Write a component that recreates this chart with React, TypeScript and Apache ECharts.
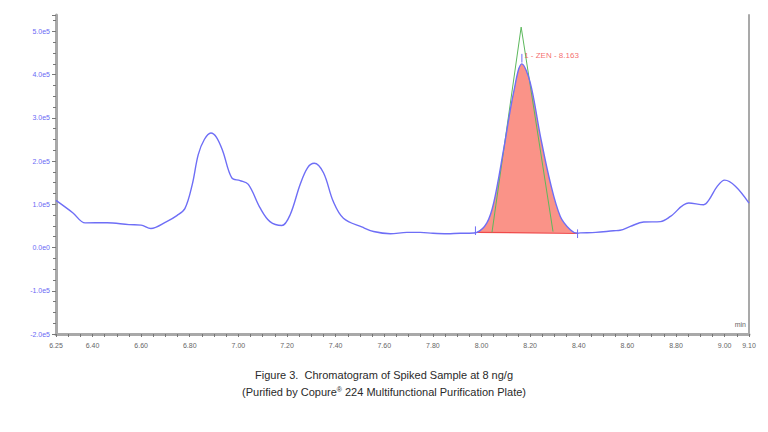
import React, { useEffect, useRef } from "react";
import * as echarts from "echarts";

// Retention time (min) and detector response (counts)
const times = [
  6.25, 6.32, 6.37, 6.46, 6.55, 6.6, 6.64, 6.705, 6.747, 6.78, 6.81, 6.835, 6.86, 6.887, 6.91,
  6.936, 6.973, 7.007, 7.041, 7.09, 7.13, 7.179, 7.213, 7.254, 7.285, 7.312, 7.35, 7.39, 7.432,
  7.51, 7.556, 7.625, 7.693, 7.748, 7.8, 7.86, 7.913, 7.95, 7.981, 8.022, 8.05, 8.091, 8.132,
  8.166, 8.2, 8.242, 8.283, 8.324, 8.365, 8.393, 8.406, 8.47, 8.543, 8.57, 8.612, 8.667, 8.736,
  8.777, 8.852, 8.914, 8.934, 8.97, 9.0, 9.044, 9.1,
];
const signal = [
  109000, 80000, 57000, 57500, 53000, 52000, 44000, 60000, 74000, 90000, 145000, 215000, 250000,
  265000, 255000, 223000, 161000, 155000, 146000, 91000, 60000, 51000, 76000, 146000, 185000,
  195000, 173000, 107000, 68000, 47000, 37000, 32000, 35000, 35000, 33000, 32000, 33000, 33000,
  35000, 57000, 103000, 227000, 359000, 425000, 382000, 258000, 150000, 72000, 41000, 33000,
  34000, 35000, 39000, 40000, 49000, 59000, 60000, 72000, 103000, 99000, 109000, 142000, 156000,
  142000, 103000,
];

// Integrated peak (ZEN)
const peakStart = 7.981;
const peakEnd = 8.393;
const peakBaseline = [[7.981, 35000], [8.393, 33000]];
const tangentTriangle = [[8.043, 35000], [8.163, 510000], [8.294, 37000]];
const peakLabel = "1 - ZEN - 8.163";
const peakLabelPoint = [8.163, 445000];

// Axes
const xLabelValues = [6.25, 6.4, 6.6, 6.8, 7.0, 7.2, 7.4, 7.6, 7.8, 8.0, 8.2, 8.4, 8.6, 8.8, 9.0, 9.1];
const xMin = 6.25;
const xMax = 9.1;
const yMin = -200000;
const yMax = 538000;
const xUnit = "min";
const captionLine1 = "Figure 3.  Chromatogram of Spiked Sample at 8 ng/g";

export default function App() {
  const ref = useRef<HTMLDivElement>(null);
  useEffect(() => {
    if (!ref.current) return;
    const chart = echarts.init(ref.current, null, { renderer: "svg" });
    const trace = times.map((t, i) => [t, signal[i]]);
    const peakData = trace.filter((p) => p[0] >= peakStart && p[0] <= peakEnd);
    const xTicks: number[] = [];
    for (let k = 0; k <= Math.round((xMax - xMin) / 0.05); k++) {
      xTicks.push(Math.round((xMin + k * 0.05) * 100) / 100);
    }
    const axisGray = "#a9a9a9";
    const font = "Liberation Sans, Arial, sans-serif";
    chart.setOption({
      animation: false,
      backgroundColor: "#ffffff",
      grid: { left: 56, right: 19, top: 15, height: 319 },
      xAxis: {
        type: "value",
        min: xMin,
        max: xMax,
        axisLine: { show: true, onZero: false, lineStyle: { color: axisGray, width: 3 } },
        axisTick: { show: true, customValues: xTicks, length: 3, lineStyle: { color: "#777", width: 1 } },
        axisLabel: {
          customValues: xLabelValues,
          formatter: (v: number) => v.toFixed(2),
          fontSize: 7,
          color: "#666",
          fontFamily: font,
          margin: 8,
        },
        splitLine: { show: false },
      },
      yAxis: [
        {
          type: "value",
          min: yMin,
          max: yMax,
          interval: 100000,
          axisLine: { show: true, onZero: false, lineStyle: { color: axisGray, width: 3 } },
          axisTick: { show: true, length: 4, lineStyle: { color: "#777" } },
          minorTick: { show: true, splitNumber: 4, length: 3, lineStyle: { color: "#777" } },
          axisLabel: {
            showMaxLabel: false,
            formatter: (v: number) => (v === 0 ? "0.0e0" : (v / 100000).toFixed(1) + "e5"),
            fontSize: 7,
            color: "#6a6af5",
            fontFamily: font,
            margin: 6,
          },
          splitLine: { show: false },
        },
        {
          type: "value",
          position: "right",
          min: yMin,
          max: yMax,
          axisLine: { show: true, lineStyle: { color: axisGray, width: 2 } },
          axisTick: { show: false },
          axisLabel: { show: false },
          splitLine: { show: false },
        },
      ],
      series: [
        {
          name: "peakFill",
          type: "line",
          data: peakData,
          smooth: 0.35,
          symbol: "none",
          lineStyle: { width: 0, opacity: 0 },
          areaStyle: { origin: 34000, color: "#fa9388", opacity: 1 },
          z: 1,
        },
        {
          name: "baseline",
          type: "line",
          data: peakBaseline,
          symbol: "none",
          lineStyle: { color: "#f04a4a", width: 1.2 },
          z: 2,
        },
        {
          name: "tangent",
          type: "line",
          data: tangentTriangle,
          symbol: "none",
          lineStyle: { color: "#5cb85c", width: 1 },
          z: 3,
        },
        {
          name: "trace",
          type: "line",
          data: trace,
          smooth: 0.35,
          symbol: "none",
          lineStyle: { color: "#6e6ef6", width: 1.4 },
          z: 4,
        },
        {
          name: "startTick",
          type: "line",
          data: [[7.975, 49000], [7.975, 29000]],
          symbol: "none",
          lineStyle: { color: "#6e6ef6", width: 1 },
          z: 5,
        },
        {
          name: "endTick",
          type: "line",
          data: [[8.395, 42000], [8.395, 22000]],
          symbol: "none",
          lineStyle: { color: "#6e6ef6", width: 1 },
          z: 5,
        },
        {
          name: "apexTick",
          type: "line",
          data: [[8.166, 448000], [8.166, 428000]],
          symbol: "none",
          lineStyle: { color: "#6e6ef6", width: 1 },
          z: 5,
        },
        {
          name: "label",
          type: "scatter",
          data: [peakLabelPoint],
          symbolSize: 0,
          label: {
            show: true,
            position: "right",
            distance: 3,
            formatter: () => peakLabel,
            fontSize: 8,
            color: "#f24848",
            fontFamily: font,
          },
          z: 6,
        },
      ],
      graphic: [
        {
          type: "text",
          right: 22,
          top: 321,
          style: { text: xUnit, fontSize: 7, fill: "#666", fontFamily: font },
        },
        {
          type: "text",
          left: "center",
          top: 369,
          style: { text: captionLine1, fontSize: 11, fill: "#2a2a2a", fontFamily: font },
        },
        {
          type: "text",
          left: "center",
          top: 386,
          style: {
            text: "{a|(Purified by Copure}{s|®}{a| 224 Multifunctional Purification Plate)}",
            rich: {
              a: { fontSize: 11, fill: "#2a2a2a", fontFamily: font },
              s: { fontSize: 7, fill: "#2a2a2a", fontFamily: font, verticalAlign: "top", padding: [0, 0, 5, 0] },
            },
          },
        },
      ],
    });
    return () => chart.dispose();
  }, []);
  return <div ref={ref} style={{ width: 768, height: 432, position: "absolute", left: 0, top: 0 }} />;
}
